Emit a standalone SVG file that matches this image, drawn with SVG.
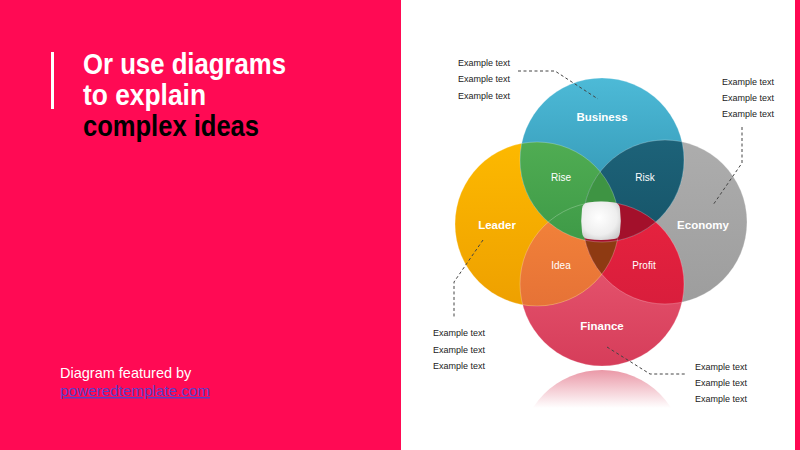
<svg xmlns="http://www.w3.org/2000/svg" width="800" height="450" viewBox="0 0 800 450">
<style>
.title{font-family:"Liberation Sans",Arial,sans-serif;font-weight:bold;font-size:29px}
.ex{font-family:"Liberation Sans",Arial,sans-serif;font-size:9px;fill:#222}
.big{font-family:"Liberation Sans",Arial,sans-serif;font-weight:bold;font-size:11.5px;fill:#fff;text-anchor:middle}
.small{font-family:"Liberation Sans",Arial,sans-serif;font-size:10px;fill:#fff;text-anchor:middle}
.dash{fill:none;stroke:#444;stroke-width:1;stroke-dasharray:3 2.5}
.edge{fill:none;stroke:#fff;stroke-opacity:0.3;stroke-width:0.8}
</style>
<defs>
<linearGradient id="gB" x1="0" y1="0" x2="0" y2="1"><stop offset="0" stop-color="#4dbad7"/><stop offset="1" stop-color="#2a8aa8"/></linearGradient>
<linearGradient id="gL" x1="0" y1="0" x2="0" y2="1"><stop offset="0" stop-color="#fdb900"/><stop offset="1" stop-color="#eea000"/></linearGradient>
<linearGradient id="gE" x1="0" y1="0" x2="0" y2="1"><stop offset="0" stop-color="#adadad"/><stop offset="1" stop-color="#9d9d9d"/></linearGradient>
<linearGradient id="gF" x1="0" y1="0" x2="0" y2="1"><stop offset="0" stop-color="#ee6078"/><stop offset="1" stop-color="#d63d5a"/></linearGradient>
<linearGradient id="gRise" x1="0" y1="0" x2="0" y2="1"><stop offset="0" stop-color="#5bb85a"/><stop offset="1" stop-color="#3e9a47"/></linearGradient>
<linearGradient id="gRisk" x1="0" y1="0" x2="0" y2="1"><stop offset="0" stop-color="#216b83"/><stop offset="1" stop-color="#165468"/></linearGradient>
<linearGradient id="gIdea" x1="0" y1="0" x2="0" y2="1"><stop offset="0" stop-color="#f4843a"/><stop offset="1" stop-color="#de6834"/></linearGradient>
<linearGradient id="gProfit" x1="0" y1="0" x2="0" y2="1"><stop offset="0" stop-color="#e8233f"/><stop offset="1" stop-color="#d01a3a"/></linearGradient>
<linearGradient id="gRef" gradientUnits="userSpaceOnUse" x1="0" y1="370" x2="0" y2="408"><stop offset="0" stop-color="#d9445f" stop-opacity="0.55"/><stop offset="1" stop-color="#d9445f" stop-opacity="0"/></linearGradient>
<radialGradient id="gC" cx="0.45" cy="0.42" r="0.7"><stop offset="0" stop-color="#ffffff"/><stop offset="0.65" stop-color="#eeeeee"/><stop offset="1" stop-color="#c6c6c6"/></radialGradient>
<clipPath id="cB"><circle cx="602" cy="160" r="82"/></clipPath>
<clipPath id="cL"><circle cx="537" cy="224" r="82"/></clipPath>
<clipPath id="cE"><circle cx="665" cy="222" r="82"/></clipPath>
<clipPath id="cF"><circle cx="602" cy="284" r="82"/></clipPath>
<clipPath id="cRef"><rect x="500" y="370" width="200" height="40"/></clipPath>
</defs>

<rect x="0" y="0" width="800" height="450" fill="#fff"/>
<rect x="0" y="0" width="401" height="450" fill="#ff0a54"/>
<rect x="795" y="0" width="5" height="450" fill="#ff0a54"/>

<rect x="51" y="52" width="3" height="57" fill="#fff"/>
<text class="title" fill="#fff" x="83" y="74" textLength="203" lengthAdjust="spacingAndGlyphs">Or use diagrams</text>
<text class="title" fill="#fff" x="83" y="105" textLength="123" lengthAdjust="spacingAndGlyphs">to explain</text>
<text class="title" fill="#000" x="83" y="136" textLength="176" lengthAdjust="spacingAndGlyphs">complex ideas</text>

<text x="60" y="378" font-family="Liberation Sans, Arial, sans-serif" font-size="14.5" fill="#fff">Diagram featured by</text>
<text x="60" y="396" font-family="Liberation Sans, Arial, sans-serif" font-size="14.5" fill="#5a3fc8" text-decoration="underline" textLength="150" lengthAdjust="spacingAndGlyphs">poweredtemplate.com</text>

<g id="reflection" clip-path="url(#cRef)"><circle cx="602" cy="452" r="82" fill="url(#gRef)"/></g>

<g id="economy"><circle cx="665" cy="222" r="82" fill="url(#gE)"/></g>
<g id="finance"><circle cx="602" cy="284" r="82" fill="url(#gF)"/></g>
<g id="leader"><circle cx="537" cy="224" r="82" fill="url(#gL)"/></g>
<g id="business"><circle cx="602" cy="160" r="82" fill="url(#gB)"/></g>

<g id="idea" clip-path="url(#cL)"><circle cx="602" cy="284" r="82" fill="url(#gIdea)"/></g>
<g id="profit" clip-path="url(#cE)"><circle cx="602" cy="284" r="82" fill="url(#gProfit)"/></g>
<g id="rise" clip-path="url(#cL)"><circle cx="602" cy="160" r="82" fill="url(#gRise)"/></g>
<g id="risk" clip-path="url(#cE)"><circle cx="602" cy="160" r="82" fill="url(#gRisk)"/></g>
<g clip-path="url(#cL)"><g clip-path="url(#cE)"><circle cx="602" cy="160" r="82" fill="#3e9443"/><circle cx="602" cy="284" r="82" fill="#8e3a12"/></g></g>
<g clip-path="url(#cB)"><g clip-path="url(#cE)"><circle cx="602" cy="284" r="82" fill="#a3102b"/></g></g>

<g id="edges">
<circle class="edge" cx="602" cy="160" r="82"/>
<circle class="edge" cx="537" cy="224" r="82"/>
<circle class="edge" cx="665" cy="222" r="82"/>
<circle class="edge" cx="602" cy="284" r="82"/>
</g>

<g id="center"><path d="M588,202.5 Q601,200.5 614,202.5 Q619.5,203 620,209 Q621.5,220.5 620,232 Q619.5,238.5 614,239 Q601,241 588,239 Q582.5,238.5 582,232 Q580.5,220.5 582,209 Q582.5,203 588,202.5 Z" fill="url(#gC)"/></g>

<text class="big" x="602" y="121">Business</text>
<text class="big" x="497" y="229">Leader</text>
<text class="big" x="703" y="229">Economy</text>
<text class="big" x="602" y="330">Finance</text>
<text class="small" x="561" y="181">Rise</text>
<text class="small" x="645" y="181">Risk</text>
<text class="small" x="561" y="269">Idea</text>
<text class="small" x="644" y="269">Profit</text>

<g id="connectors">
<path class="dash" d="M518,71 H555 L598,99"/>
<path class="dash" d="M742,127 V163 L713,205"/>
<path class="dash" d="M483,240 L454,282 V318"/>
<path class="dash" d="M607,347 L650,374 H685"/>
</g>

<g id="labels">
<text class="ex" x="458" y="66">Example text</text>
<text class="ex" x="458" y="82">Example text</text>
<text class="ex" x="458" y="99">Example text</text>
<text class="ex" x="722" y="85">Example text</text>
<text class="ex" x="722" y="101">Example text</text>
<text class="ex" x="722" y="117">Example text</text>
<text class="ex" x="433" y="336">Example text</text>
<text class="ex" x="433" y="353">Example text</text>
<text class="ex" x="433" y="369">Example text</text>
<text class="ex" x="695" y="370">Example text</text>
<text class="ex" x="695" y="386">Example text</text>
<text class="ex" x="695" y="402">Example text</text>
</g>
</svg>
